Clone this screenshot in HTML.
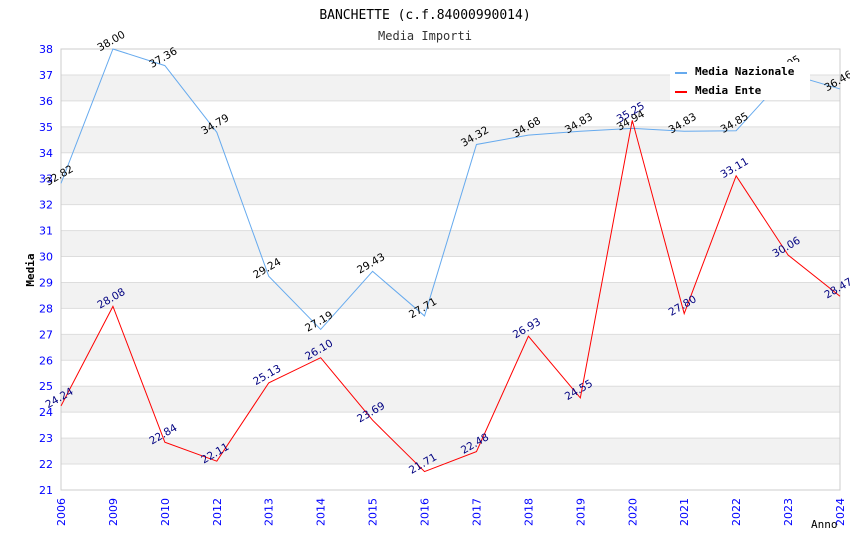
<!DOCTYPE html>
<html><head><meta charset="utf-8"><style>
body{margin:0;background:#fff;}
svg text{font-family:"DejaVu Sans Mono","Liberation Mono",monospace;}
svg text.s{font-family:"DejaVu Sans","Liberation Sans",sans-serif;}
</style></head><body>
<svg id="chart" width="850" height="550" xmlns="http://www.w3.org/2000/svg">
<text x="425" y="19" text-anchor="middle" font-size="13" fill="#000">BANCHETTE (c.f.84000990014)</text>
<text x="425" y="40" text-anchor="middle" font-size="12" fill="#333">Media Importi</text>
<g id="grid"></g><g id="axes"></g><g id="series"></g>
<text transform="translate(34,270) rotate(-90)" text-anchor="middle" font-size="11" font-weight="bold" fill="#000">Media</text>
<text x="811" y="528" font-size="11" fill="#000">Anno</text>
<g>
<rect x="670" y="62" width="140" height="38" fill="#fff"/>
<line x1="675" y1="73" x2="687" y2="73" stroke="#66aaee" stroke-width="2"/>
<text x="695" y="75" font-size="11" font-weight="bold">Media Nazionale</text>
<line x1="675" y1="92" x2="687" y2="92" stroke="#ff0000" stroke-width="2"/>
<text x="695" y="94" font-size="11" font-weight="bold">Media Ente</text>
</g>
</svg>
<script>
const years=["2006","2009","2010","2012","2013","2014","2015","2016","2017","2018","2019","2020","2021","2022","2023","2024"];
const nazionale=[32.82,38.00,37.36,34.79,29.24,27.19,29.43,27.71,34.32,34.68,34.83,34.94,34.83,34.85,37.05,36.46];
const ente=[24.24,28.08,22.84,22.11,25.13,26.10,23.69,21.71,22.48,26.93,24.55,35.25,27.80,33.11,30.06,28.47];
const yTicks=[21,22,23,24,25,26,27,28,29,30,31,32,33,34,35,36,37,38];
const L=61,R=840,T=49,B=490,yMin=21,yMax=38;
const NS="http://www.w3.org/2000/svg";
const xs=i=>L+i*(R-L)/(years.length-1);
const ys=v=>B-(v-yMin)*(B-T)/(yMax-yMin);
function mk(tag,attrs,parent,txt){const e=document.createElementNS(NS,tag);for(const k in attrs)e.setAttribute(k,attrs[k]);if(txt!==undefined)e.textContent=txt;document.getElementById(parent).appendChild(e);return e;}
for(let i=0;i<yTicks.length-1;i++){
  const a=yTicks[i];
  if(a%2===0){const r=mk('rect',{x:L,y:ys(a+1),width:R-L,height:ys(a)-ys(a+1),fill:'#f2f2f2'},'grid');
  
  }
}
yTicks.forEach(t=>{
  const l=mk('line',{x1:L,x2:R,y1:ys(t),y2:ys(t),stroke:'#dddddd','stroke-width':1},'grid');
  
  
  const tx=mk('text',{class:'s',x:L-8,y:ys(t)+4,'text-anchor':'end','font-size':11,fill:'#0000ff'},'axes',String(t));
  
  
});
const fr=mk('rect',{x:L,y:T,width:R-L,height:B-T,fill:'none',stroke:'#cccccc'},'axes');


years.forEach((y,i)=>{
  const tx=mk('text',{class:'s',transform:`translate(${xs(i)+4},${B+8}) rotate(-90)`,'text-anchor':'end','font-size':11,fill:'#0000ff'},'axes',y);
  
  
});
function series(vals,color,lab,name){
  const p=mk('polyline',{points:vals.map((v,i)=>xs(i)+','+ys(v)).join(' '),fill:'none',stroke:color,'stroke-width':1},'series');
  
  
  vals.forEach((v,i)=>{
    const t=mk('text',{class:'s',transform:`translate(${xs(i)},${ys(v)-5}) rotate(-30)`,'text-anchor':'middle','font-size':10.5,fill:lab},'series',v.toFixed(2));
    
    
  });
}
series(nazionale,'#66aaee','#000','line-media-nazionale');
series(ente,'#ff0000','#000080','line-media-ente');
</script>
</body></html>
